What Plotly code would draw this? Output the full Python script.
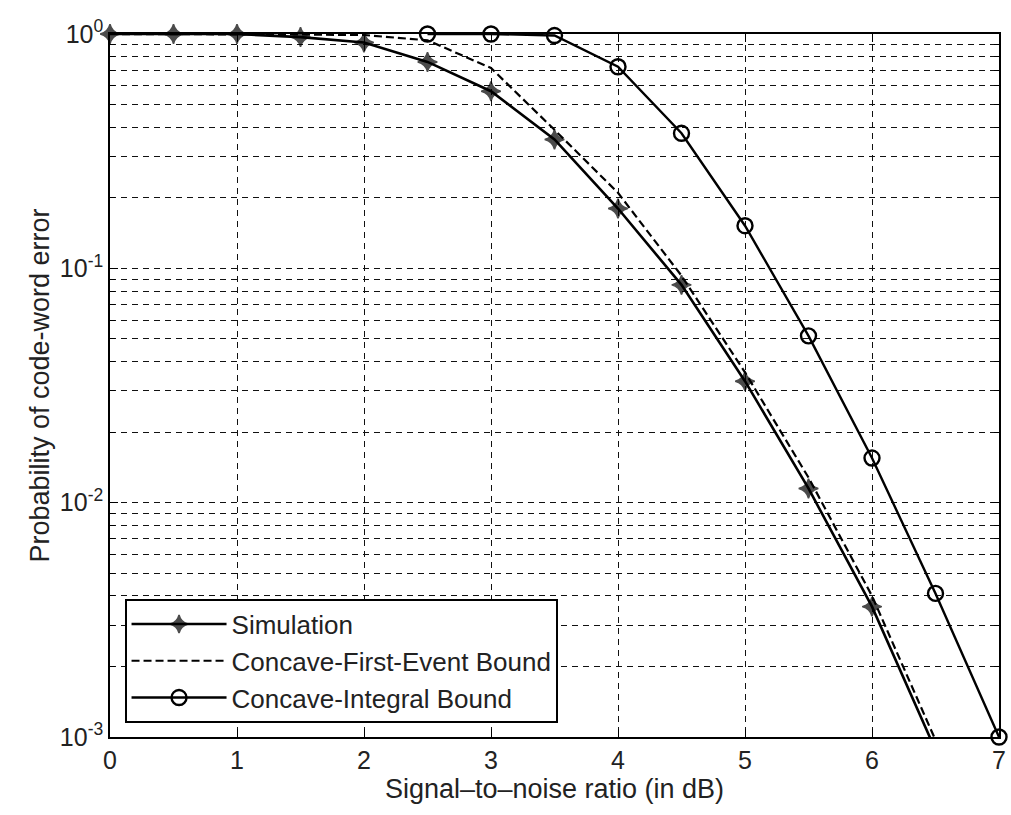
import plotly.graph_objects as go

# ---- data ----
snr_sim = [0, 0.5, 1, 1.5, 2, 2.5, 3, 3.5, 4, 4.5, 5, 5.5, 6, 6.5]
p_sim = [1.0, 1.0, 1.0, 0.97, 0.92, 0.76, 0.57, 0.355, 0.18, 0.085, 0.033, 0.0115, 0.0036, 0.00088]

snr_cfe = [0, 0.5, 1, 1.5, 2, 2.5, 3, 3.5, 4, 4.5, 5, 5.5, 6, 6.5]
p_cfe = [1.0, 1.0, 1.0, 0.995, 0.99, 0.94, 0.716, 0.39, 0.21, 0.093, 0.036, 0.0128, 0.0040, 0.00097]

snr_ci = [2.5, 3, 3.5, 4, 4.5, 5, 5.5, 6, 6.5, 7]
p_ci = [1.0, 1.0, 0.985, 0.725, 0.377, 0.152, 0.0515, 0.0155, 0.0041, 0.001]

x_ticks = [0, 1, 2, 3, 4, 5, 6, 7]
y_major = [1e-3, 1e-2, 1e-1, 1e0]
y_major_text = ["10<sup>-3</sup>", "10<sup>-2</sup>", "10<sup>-1</sup>", "10<sup>0</sup>"]
y_minor = [m * 10.0 ** e for e in (-3, -2, -1) for m in range(2, 10)]

FONT = "Liberation Sans, Arial, sans-serif"
TXT = "#222222"

fig = go.Figure()

sim_sizes = [14] * (len(snr_sim) - 1) + [0]
fig.add_trace(go.Scatter(
    x=snr_sim, y=p_sim, name="Simulation", mode="lines+markers",
    line=dict(color="black", width=2.6),
    marker=dict(symbol="star-diamond", size=sim_sizes, color="black",
                line=dict(color="black", width=1.5)),
    cliponaxis=False,
))
fig.add_trace(go.Scatter(
    x=snr_cfe, y=p_cfe, name="Concave-First-Event Bound", mode="lines",
    line=dict(color="black", width=2.2, dash="8px,4px"),
))
fig.add_trace(go.Scatter(
    x=snr_ci, y=p_ci, name="Concave-Integral Bound", mode="lines+markers",
    line=dict(color="black", width=2.4),
    marker=dict(symbol="circle-open", size=15, color="black",
                line=dict(color="black", width=2.4)),
    cliponaxis=False,
))

grid = dict(gridcolor="#111111", gridwidth=1.2, griddash="6px,5px")

fig.update_xaxes(
    range=[0, 7], tickvals=x_ticks, ticktext=[str(v) for v in x_ticks],
    ticks="inside", ticklen=8, tickwidth=1.3, tickcolor="black",
    showline=True, linecolor="black", linewidth=1.6, mirror="ticks",
    showgrid=True, zeroline=False, **grid,
    ticklabeloverflow="allow",
    tickfont=dict(family=FONT, size=25, color=TXT),
    title=dict(text="Signal\u2013to\u2013noise ratio (in dB)",
               font=dict(family=FONT, size=27, color=TXT), standoff=4),
)
fig.update_yaxes(
    type="log", range=[-3, 0], tickvals=y_major, ticktext=y_major_text,
    ticks="inside", ticklen=8, tickwidth=1.3, tickcolor="black",
    showline=True, linecolor="black", linewidth=1.6, mirror="ticks",
    showgrid=True, zeroline=False, **grid,
    minor=dict(tickvals=y_minor, ticks="inside", ticklen=5, tickwidth=1.3,
               tickcolor="black", showgrid=True, **grid),
    tickfont=dict(family=FONT, size=25, color=TXT),
    title=dict(text="Probability of code-word error",
               font=dict(family=FONT, size=27, color=TXT), standoff=2),
)

fig.update_layout(
    width=1011, height=815,
    margin=dict(l=110, r=5, t=34, b=78),
    paper_bgcolor="white", plot_bgcolor="white",
    font=dict(family=FONT, color=TXT),
    showlegend=True,
    legend=dict(
        x=0.0168, y=0.02, xanchor="left", yanchor="bottom",
        bgcolor="white", bordercolor="black", borderwidth=1.6,
        font=dict(family=FONT, size=26, color=TXT),
        itemwidth=95, tracegroupgap=0,
    ),
)

fig.write_html("out.html")
